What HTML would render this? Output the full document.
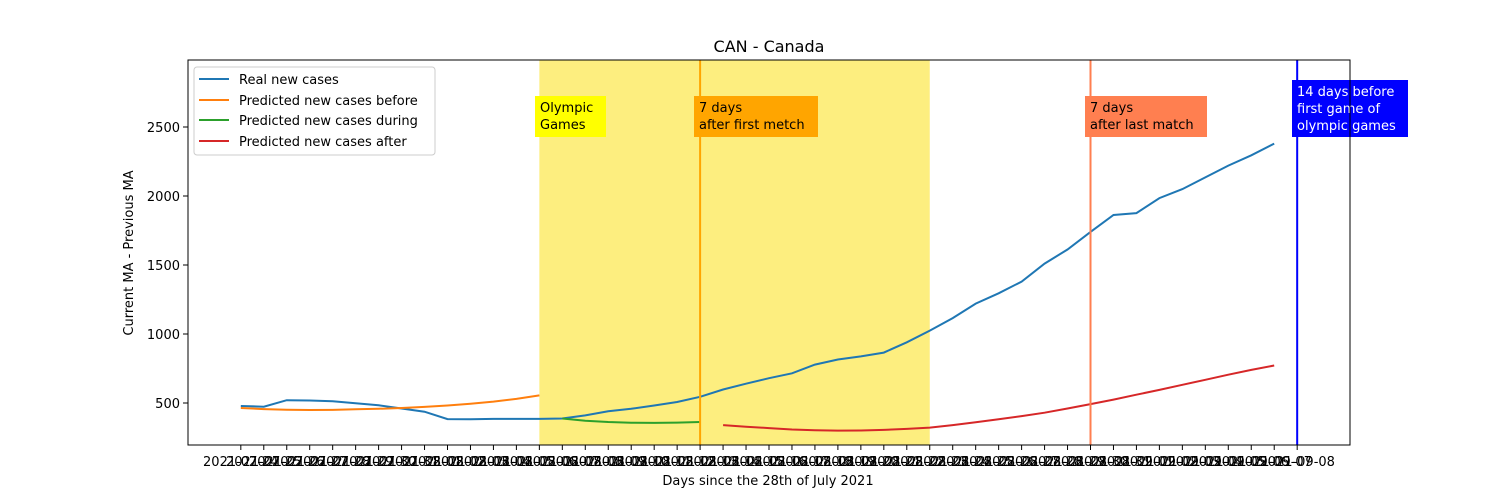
<!DOCTYPE html>
<html><head><meta charset="utf-8"><style>
body{margin:0;background:#fff}
svg{display:block;font-family:"DejaVu Sans","Liberation Sans",sans-serif}
</style></head><body>
<svg id="c" width="1500" height="500" xmlns="http://www.w3.org/2000/svg">
<text x="769" y="52" font-size="16" text-anchor="middle">CAN - Canada</text>
<text x="768" y="485" font-size="13" text-anchor="middle">Days since the 28th of July 2021</text>
<text transform="translate(133,253) rotate(-90)" font-size="13" text-anchor="middle">Current MA - Previous MA</text>
<g id="bands"></g><g id="grid"></g><g id="lines"></g><g id="ann"></g>
<rect x="188" y="60" width="1162" height="385" fill="none" stroke="#000" stroke-width="1"/>
<g>
<rect x="194" y="67" width="241" height="88" rx="3" fill="#fff" fill-opacity="0.8" stroke="#ccc"/>
<line x1="199" x2="229" y1="79" y2="79" stroke="#1f77b4" stroke-width="2"/>
<text x="239" y="84" font-size="13">Real new cases</text>
<line x1="199" x2="229" y1="100" y2="100" stroke="#ff7f0e" stroke-width="2"/>
<text x="239" y="105" font-size="13">Predicted new cases before</text>
<line x1="199" x2="229" y1="120" y2="120" stroke="#2ca02c" stroke-width="2"/>
<text x="239" y="125" font-size="13">Predicted new cases during</text>
<line x1="199" x2="229" y1="141" y2="141" stroke="#d62728" stroke-width="2"/>
<text x="239" y="146" font-size="13">Predicted new cases after</text>
</g>
</svg>
<script>
const realValues=[478,473,520,518,512,498,483,460,437,383,382,385,385,385,388,410,440,458,482,507,545,598,640,680,715,778,815,838,865,940,1025,1115,1220,1295,1380,1510,1612,1740,1862,1876,1985,2050,2135,2220,2295,2380];
const beforeValues=[464,456,451,449,450,454,458,464,472,482,495,510,530,555];
const duringValues=[388,372,362,357,356,358,362];
const afterValues=[340,328,318,308,302,300,301,305,312,322,340,360,382,405,430,460,492,525,560,595,632,668,705,740,772];
const beforeStart=0,duringStart=14,afterStart=21;
const yTicks=[500,1000,1500,2000,2500];
const tickLabels=[];
(function(){let d=new Date(Date.UTC(2021,6,24));for(let i=0;i<47;i++){tickLabels.push(d.toISOString().slice(0,10));d.setUTCDate(d.getUTCDate()+1);}})();
const bandRange=[13,30];
const vlines=[{i:20,c:"#ffa500",n:"first-match-line"},{i:37,c:"#ff7f50",n:"last-match-line"},{i:46,c:"#0000ff",n:"pre-games-line"}];
const X=i=>188+(i+2.3)*(1162/50.6);
const Y=v=>403-(v-500)*69/500;
const NS="http://www.w3.org/2000/svg";
function mk(p,t,a){const e=document.createElementNS(NS,t);for(const k in a)e.setAttribute(k,a[k]);document.getElementById(p).appendChild(e);return e;}
let b=mk('bands','rect',{x:X(bandRange[0]),y:60,width:X(bandRange[1])-X(bandRange[0]),height:385,fill:'#fdee7f'});


tickLabels.forEach((l,i)=>{
 let t=mk('grid','line',{x1:X(i),x2:X(i),y1:445,y2:450,stroke:'#000'});
 
 
 let tx=mk('grid','text',{x:X(i),y:466,'font-size':13,'text-anchor':'middle'});tx.textContent=l;
 
 
});
yTicks.forEach(v=>{
 let t=mk('grid','line',{x1:183,x2:188,y1:Y(v),y2:Y(v),stroke:'#000'});
 
 
 let tx=mk('grid','text',{x:180,y:Y(v)+5,'font-size':13,'text-anchor':'end'});tx.textContent=v;
 
 
});
function series(vals,start,col,name){
 const p=vals.map((v,k)=>X(start+k).toFixed(1)+','+Y(v).toFixed(1)).join(' ');
 let e=mk('lines','polyline',{points:p,fill:'none',stroke:col,'stroke-width':2});
 
 
}
series(realValues,0,'#1f77b4','real-cases-line');
series(beforeValues,beforeStart,'#ff7f0e','predicted-before-line');
series(duringValues,duringStart,'#2ca02c','predicted-during-line');
series(afterValues,afterStart,'#d62728','predicted-after-line');
vlines.forEach(v=>{
 let e=mk('lines','line',{x1:X(v.i),x2:X(v.i),y1:60,y2:445,stroke:v.c,'stroke-width':2});
 
 
});
function box(x,y,w,h,fill,color,lines,name){
 let r=mk('ann','rect',{x:x,y:y,width:w,height:h,fill:fill});
 
 
 lines.forEach((l,k)=>{let t=mk('ann','text',{x:x+5,y:y+16+k*17,'font-size':13,fill:color});t.textContent=l;
 
 });
}
box(535,96,71,41,'#ffff00','#000',['Olympic','Games'],'olympic-games-label');
box(694,96,124,41,'#ffa500','#000',['7 days','after first metch'],'first-match-label');
box(1085,96,122,41,'#ff7f50','#000',['7 days','after last match'],'last-match-label');
box(1292,80,116,57,'#0000ff','#fff',['14 days before','first game of','olympic games'],'pre-games-label');
</script>
</body></html>
